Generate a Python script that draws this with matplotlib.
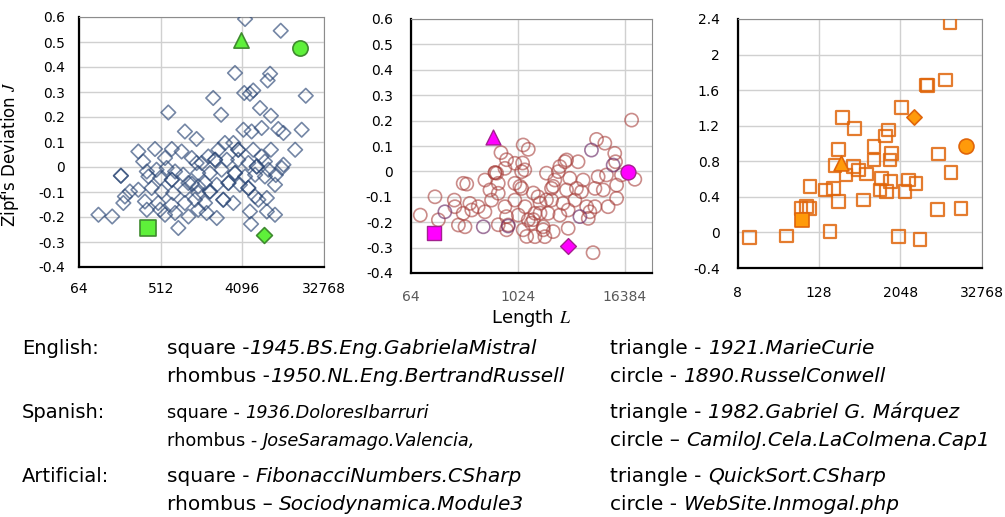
import matplotlib.pyplot as plt
from matplotlib.ticker import FixedLocator, FixedFormatter, NullLocator

plt.rcParams['font.family'] = 'DejaVu Sans'
plt.rcParams['mathtext.fontset'] = 'stix'

# English texts: length L and Zipf's deviation J
eng_len = [622, 949, 1278, 290, 443, 680, 873, 328, 572, 1130, 1278, 186, 360, 461,
           596, 739, 910, 375, 505, 680, 1038, 1332, 234, 290, 407, 526, 704, 949,
           206, 198, 343, 481, 680, 949, 1226, 360, 505, 572, 739, 1038, 105, 149,
           803, 3397, 8307, 7802, 1951, 4300, 5405, 4974, 20600, 2386, 6427, 8479,
           4211, 5185, 6700, 10230, 11665, 18560, 15720, 8479, 11665, 11190, 9410,
           2629, 3258, 2226, 3691, 5405, 6700, 7281, 1722, 1458, 2048, 2759, 3691,
           4772, 5914, 7966, 1332, 1795, 2419, 3397, 4390, 5673, 7281, 1585, 2136,
           2876, 3848, 4772, 1332, 1795, 2521, 3258, 5673, 6165, 7643, 1585, 1332,
           1652, 2136, 4974, 7643, 9410, 5112, 4390, 10890, 9610, 186, 680, 1130,
           2048, 2876, 3691, 4772, 5914, 1795, 2521, 3397]
eng_dev = [0.218, 0.142, 0.112, 0.062, 0.072, 0.072, 0.062, 0.022, 0.036, 0.036, 0.016,
           -0.035, -0.018, -0.011, -0.004, -0.018, -0.031, -0.038, -0.044, -0.051,
           -0.064, -0.078, -0.098, -0.091, -0.084, -0.098, -0.104, -0.091, -0.118,
           -0.144, -0.138, -0.144, -0.151, -0.144, -0.131, -0.171, -0.171, -0.191,
           -0.184, -0.198, -0.191, -0.198, -0.244, 0.376, 0.373, 0.346, 0.276, 0.296,
           0.306, 0.293, 0.285, 0.209, 0.236, 0.205, 0.149, 0.142, 0.156, 0.152,
           0.136, 0.149, 0.069, 0.069, 0.009, -0.004, -0.071, 0.096, 0.096, 0.069,
           0.069, 0.069, 0.042, 0.022, 0.042, 0.016, 0.029, 0.029, 0.029, 0.016,
           0.002, -0.011, -0.024, -0.024, -0.011, -0.024, -0.038, -0.031, -0.038,
           -0.064, -0.071, -0.064, -0.071, -0.084, -0.104, -0.098, -0.131, -0.144,
           -0.118, -0.131, -0.124, -0.144, -0.171, -0.184, -0.204, -0.178, -0.178,
           -0.191, -0.228, 0.592, 0.545, -0.032, -0.035, -0.051, -0.067, 0.029,
           -0.064, 0.069, -0.084, 0.002, -0.098, -0.131, -0.024]

# Spanish texts
spa_len = [82, 120, 131, 198, 201, 220, 249, 249, 261, 273, 296, 311, 367, 437, 437,
           498, 519, 568, 617, 617, 662, 734, 734, 765, 798, 949, 949, 949, 1038,
           1130, 1130, 1176, 1235, 1342, 1342, 1160, 1226, 765, 592, 1082, 1531,
           1820, 2150, 2556, 1820, 1531, 1176, 1287, 1978, 765, 2150, 3040, 3616,
           19480, 7860, 9740, 12590, 12850, 21170, 14970, 10160, 8192, 13210, 9350,
           7540, 13210, 10590, 7540, 6610, 5560, 5330, 3930, 3470, 4870, 2920, 2670,
           2450, 3616, 4670, 1730, 2450, 3300, 4480, 6080, 3770, 6340, 3040, 2240,
           1596, 1458, 1978, 2556, 2062, 3770, 1596, 7180, 568, 617]
spa_dev = [-0.172, -0.100, -0.191, -0.113, -0.139, -0.211, -0.047, -0.165, -0.218,
           -0.050, -0.126, -0.152, -0.139, -0.034, -0.159, -0.073, -0.113, -0.005,
           -0.086, -0.047, 0.074, 0.012, -0.139, -0.178, -0.211, 0.032, -0.113,
           -0.047, -0.172, -0.001, -0.067, 0.104, -0.139, 0.087, -0.191, 0.033,
           0.006, 0.046, -0.007, -0.059, -0.085, -0.125, -0.112, -0.059, -0.164,
           -0.190, -0.230, -0.256, -0.230, -0.230, -0.007, 0.019, 0.045, 0.202,
           0.126, 0.111, 0.071, 0.038, -0.031, -0.014, -0.014, -0.021, -0.054,
           -0.073, -0.067, -0.106, -0.139, -0.139, -0.159, -0.034, -0.080, -0.027,
           0.038, 0.038, -0.001, -0.034, -0.067, -0.073, -0.067, -0.100, -0.113,
           -0.126, -0.113, -0.139, -0.152, -0.185, -0.172, -0.165, -0.165, -0.204,
           -0.218, -0.237, -0.257, -0.224, -0.257, -0.320, -0.005, -0.210]
spa2_len = [155, 419, 6890, 12080, 5110, 798]
spa2_dev = [-0.159, -0.218, 0.084, 0.025, -0.178, -0.215]

# Artificial (program) texts
art_len = [11.9, 41.7, 186, 69, 84, 92, 94, 158, 208, 247, 247, 221, 286, 427, 322,
           413, 488, 580, 648, 832, 832, 1082, 1024, 1287, 1217, 1360, 1438, 1520,
           1468, 2400, 2150, 2680, 3490, 1911, 4010, 5040, 5200, 7480, 7330, 9480,
           11110, 11500, 16160]
art_dev = [-0.055, -0.040, 0.009, 0.271, 0.290, 0.271, 0.515, 0.477, 0.496, 0.346,
           0.934, 0.751, 1.294, 1.171, 0.646, 0.740, 0.702, 0.365, 0.657, 0.964,
           0.815, 0.608, 0.477, 0.459, 1.084, 1.152, 0.815, 0.890, 0.571, 0.459,
           1.407, 0.590, 0.552, -0.048, -0.078, 1.658, 1.650, 0.882, 0.260, 1.714,
           2.359, 0.672, 0.267]

# highlighted texts: square, rhombus, triangle, circle
eng_sel_len = [375, 7080, 3990, 17700]
eng_sel_dev = [-0.244, -0.273, 0.51, 0.478]
spa_sel_len = [118, 3770, 534, 17800]
spa_sel_dev = [-0.243, -0.293, 0.135, -0.004]
art_sel_len = [72.5, 3300, 269, 18960]
art_sel_dev = [0.14, 1.302, 0.78, 0.976]
sel_marks = ['s', 'D', '^', 'o']

legend_rows = [
    ('English:', 'square -', '1945.BS.Eng.GabrielaMistral', 'triangle - ', '1921.MarieCurie'),
    ('', 'rhombus -', '1950.NL.Eng.BertrandRussell', 'circle - ', '1890.RusselConwell'),
    ('Spanish:', 'square - ', '1936.DoloresIbarruri', 'triangle - ', '1982.Gabriel G. Márquez'),
    ('', 'rhombus - ', 'JoseSaramago.Valencia,', 'circle – ', 'CamiloJ.Cela.LaColmena.Cap1'),
    ('Artificial:', 'square - ', 'FibonacciNumbers.CSharp', 'triangle - ', 'QuickSort.CSharp'),
    ('', 'rhombus – ', 'Sociodynamica.Module3', 'circle - ', 'WebSite.Inmogal.php'),
]
row_y = [348, 376, 413, 441, 477, 504]


def style_axes(ax, xlim, xticks, xlabels, ylim, yticks, ylabels, xpad, ypad, xcol):
    ax.set_xscale('log', base=2)
    ax.set_xlim(*xlim)
    ax.set_ylim(*ylim)
    ax.xaxis.set_major_locator(FixedLocator(xticks))
    ax.xaxis.set_major_formatter(FixedFormatter(xlabels))
    ax.xaxis.set_minor_locator(NullLocator())
    ax.yaxis.set_major_locator(FixedLocator(yticks))
    ax.yaxis.set_major_formatter(FixedFormatter(ylabels))
    ax.tick_params(axis='both', length=0, labelsize=10)
    ax.tick_params(axis='x', pad=xpad, labelcolor=xcol)
    ax.tick_params(axis='y', pad=ypad)
    ax.grid(True, color='#d0d0d0', linewidth=1.0)
    ax.set_axisbelow(True)
    for s in ['left', 'bottom']:
        ax.spines[s].set_color('black')
        ax.spines[s].set_linewidth(1.6)
    for s in ['top', 'right']:
        ax.spines[s].set_color('#8c8c8c')
        ax.spines[s].set_linewidth(0.8)


fig = plt.figure(figsize=(10.05, 5.17), dpi=100)

jt = [-0.4, -0.3, -0.2, -0.1, 0, 0.1, 0.2, 0.3, 0.4, 0.5, 0.6]
jl = ['-0.4', '-0.3', '-0.2', '-0.1', '0', '0.1', '0.2', '0.3', '0.4', '0.5', '0.6']

# English
ax1 = fig.add_axes([79 / 1005, 250 / 517, 245 / 1005, 250 / 517])
style_axes(ax1, (64, 32768), [64, 512, 4096, 32768], ['64', '512', '4096', '32768'],
           (-0.4, 0.6), jt, jl, 11, 10, 'black')
ax1.scatter(eng_len, eng_dev, marker='D', s=55, facecolors='none',
            edgecolors='#2a4675', linewidths=1.2, alpha=0.65, zorder=3)
for L, J, m in zip(eng_sel_len, eng_sel_dev, sel_marks):
    ax1.scatter([L], [J], marker=m, s=120 if m != 'D' else 65, facecolors='#5ef03a',
                edgecolors='#3f8a2f', linewidths=1.2, zorder=4)
ax1.set_ylabel("Zipf's Deviation $J$", fontsize=12)
ax1.yaxis.set_label_coords(-0.235, 0.45)

# Spanish
ax2 = fig.add_axes([410.7 / 1005, 244 / 517, 241 / 1005, 254 / 517])
style_axes(ax2, (64, 32768), [64, 1024, 16384], ['64', '1024', '16384'],
           (-0.4, 0.6), jt, jl, 12, 13, '#595959')
ax2.scatter(spa_len, spa_dev, marker='o', s=90, facecolors='none',
            edgecolors='#a8403c', linewidths=1.2, alpha=0.6, zorder=3)
ax2.scatter(spa2_len, spa2_dev, marker='o', s=90, facecolors='none',
            edgecolors='#6e2f6a', linewidths=1.2, alpha=0.65, zorder=3)
for L, J, m in zip(spa_sel_len, spa_sel_dev, sel_marks):
    ax2.scatter([L], [J], marker=m, s=115 if m != 'D' else 65, facecolors='#ff00ff',
                edgecolors='#a3208f', linewidths=1.0, zorder=4)
ax2.set_xlabel('Length $L$', fontsize=13)
ax2.xaxis.set_label_coords(0.5, -0.135)

# Artificial
ax3 = fig.add_axes([737.7 / 1005, 249 / 517, 244 / 1005, 249 / 517])
style_axes(ax3, (8, 32768), [8, 128, 2048, 32768], ['8', '128', '2048', '32768'],
           (-0.4, 2.4), [-0.4, 0, 0.4, 0.8, 1.2, 1.6, 2, 2.4],
           ['-0.4', '0', '0.4', '0.8', '1.2', '1.6', '2', '2.4'], 13, 13, 'black')
ax3.scatter(art_len, art_dev, marker='s', s=85, facecolors='none',
            edgecolors='#e0650a', linewidths=1.6, alpha=0.85, zorder=3)
for L, J, m in zip(art_sel_len, art_sel_dev, sel_marks):
    ax3.scatter([L], [J], marker=m, s=115 if m != 'D' else 60, facecolors='#ff9a0a',
                edgecolors='#e0650a', linewidths=1.2, zorder=4)

# legend text under the charts
tax = fig.add_axes([0, 0, 1, 1])
tax.axis('off')
tax.set_xlim(0, 1005)
tax.set_ylim(517, 0)
for (lang, a1, a2, b1, b2), y in zip(legend_rows, row_y):
    fs = 12.8 if lang == 'Spanish:' or a2.startswith('Jose') else 14.5
    if lang:
        tax.text(22, y, lang, fontsize=14, va='center', ha='left')
    t = tax.text(167, y, a1, fontsize=fs, va='center', ha='left')
    tax.annotate(a2, xy=(1, 0), xycoords=t, fontsize=fs, style='italic',
                 va='bottom', ha='left')
    t = tax.text(610, y, b1, fontsize=14.5, va='center', ha='left')
    tax.annotate(b2, xy=(1, 0), xycoords=t, fontsize=14.5, style='italic',
                 va='bottom', ha='left')

plt.savefig('out.png', dpi=100)
